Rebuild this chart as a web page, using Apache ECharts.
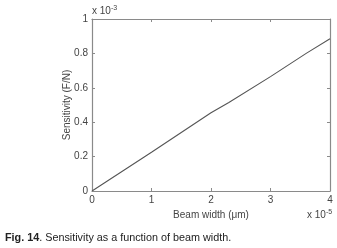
<!DOCTYPE html>
<html>
<head>
<meta charset="utf-8">
<script src="https://cdn.jsdelivr.net/npm/echarts@6/dist/echarts.min.js"></script>
<style>
  html, body { margin: 0; padding: 0; background: #fff; }
  #chart { width: 337px; height: 248px; }
</style>
</head>
<body>
<div id="chart"></div>
<script>
// beam width, in units of 1e-5
var beamWidth = [0, 1, 2, 2.3, 3, 3.6, 4]
// sensitivity (F/N), in units of 1e-3
var sensitivity = [0, 0.225, 0.455, 0.515, 0.665, 0.8, 0.885]
var xTicks = [0, 1, 2, 3, 4]
var yTicks = [0, 0.2, 0.4, 0.6, 0.8, 1]

var font = 'Liberation Sans, Arial, sans-serif'
var axisGray = '#8a8a8a'
var textGray = '#444'

var chart = echarts.init(document.getElementById('chart'))

var pts = beamWidth.map(function (x, i) { return [x, sensitivity[i]] })

function boxAxis(pos) {
  return {
    type: 'value',
    position: pos,
    min: 0,
    max: pos === 'top' ? xTicks[xTicks.length - 1] : yTicks[yTicks.length - 1],
    interval: pos === 'top' ? 1 : 0.2,
    axisLine: { show: true, onZero: false, lineStyle: { color: axisGray, width: 1.2 } },
    axisTick: { show: true, inside: true, length: 3, lineStyle: { color: axisGray } },
    axisLabel: { show: false },
    splitLine: { show: false }
  }
}

chart.setOption({
  animation: false,
  grid: { left: 92, right: 7, top: 19, bottom: 57 },
  title: {
    left: 0,
    top: 228,
    text: '{b|Fig. 14}. Sensitivity as a function of beam width.',
    textStyle: {
      fontFamily: font,
      fontSize: 10.8,
      fontWeight: 'normal',
      color: '#222',
      rich: { b: { fontFamily: font, fontSize: 10.8, fontWeight: 'bold', color: '#222' } }
    }
  },
  xAxis: [
    {
      type: 'value',
      min: xTicks[0],
      max: xTicks[xTicks.length - 1],
      interval: 1,
      name: 'Beam width (μm)',
      nameLocation: 'middle',
      nameGap: 19,
      nameTextStyle: { fontFamily: font, fontSize: 10, color: textGray },
      axisLine: { show: true, onZero: false, lineStyle: { color: axisGray, width: 1.2 } },
      axisTick: { show: true, inside: true, length: 3, lineStyle: { color: axisGray } },
      axisLabel: { fontFamily: font, fontSize: 10, color: textGray, margin: 4 },
      splitLine: { show: false }
    },
    boxAxis('top')
  ],
  yAxis: [
    {
      type: 'value',
      min: yTicks[0],
      max: yTicks[yTicks.length - 1],
      interval: 0.2,
      name: 'Sensitivity (F/N)',
      nameLocation: 'middle',
      nameGap: 20,
      nameMoveOverlap: false,
      nameRotate: 90,
      nameTextStyle: { fontFamily: font, fontSize: 10, color: textGray },
      axisLine: { show: true, onZero: false, lineStyle: { color: axisGray, width: 1.2 } },
      axisTick: { show: true, inside: true, length: 3, lineStyle: { color: axisGray } },
      axisLabel: { fontFamily: font, fontSize: 10, color: textGray, margin: 4 },
      splitLine: { show: false }
    },
    boxAxis('right')
  ],
  graphic: [
    {
      type: 'text',
      left: 92,
      top: 5,
      style: {
        text: 'x 10{s|-3}',
        fontFamily: font,
        fontSize: 10,
        fill: textGray,
        rich: { s: { fontFamily: font, fontSize: 7, fill: textGray, verticalAlign: 'top', padding: [0, 0, 6, 0] } }
      }
    },
    {
      type: 'text',
      left: 307,
      top: 209,
      style: {
        text: 'x 10{s|-5}',
        fontFamily: font,
        fontSize: 10,
        fill: textGray,
        rich: { s: { fontFamily: font, fontSize: 7, fill: textGray, verticalAlign: 'top', padding: [0, 0, 6, 0] } }
      }
    }
  ],
  series: [
    {
      type: 'line',
      data: pts,
      symbol: 'none',
      lineStyle: { color: '#555', width: 1.1 }
    }
  ]
})
</script>
</body>
</html>
